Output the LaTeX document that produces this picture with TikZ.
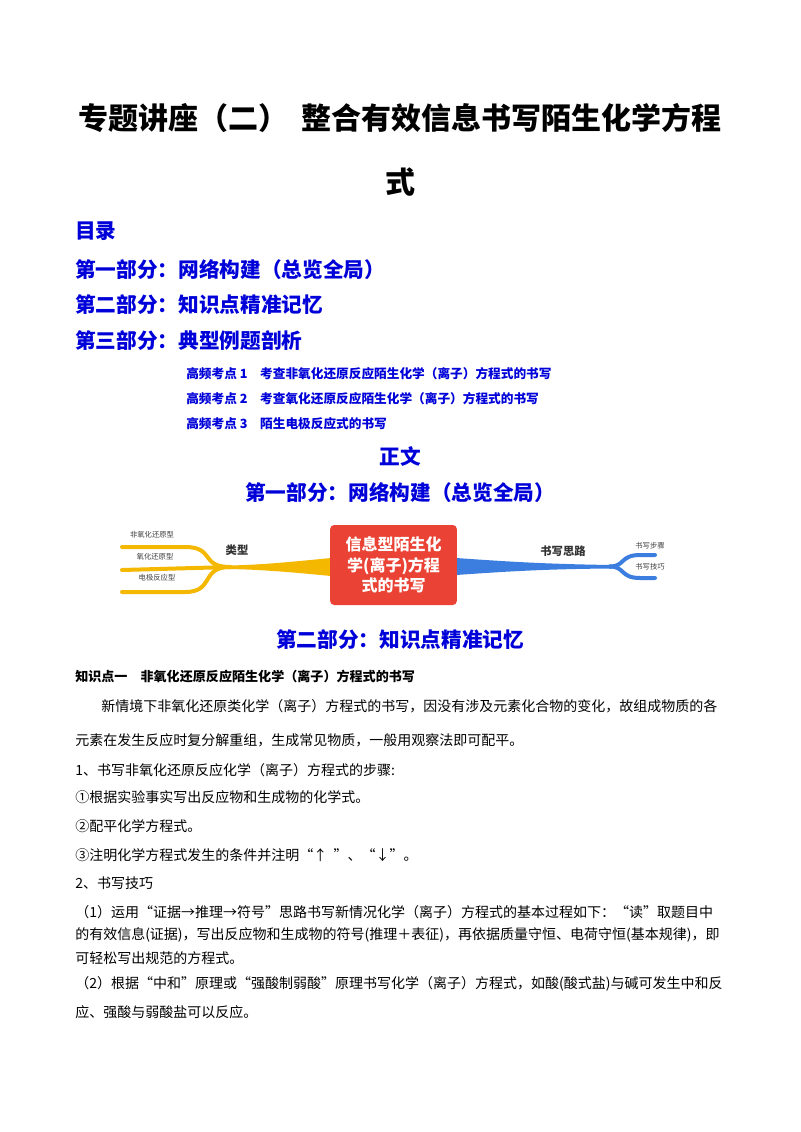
\documentclass[tikz,border=0pt]{standalone}
\usepackage{fontspec}
\setmainfont{Noto Sans CJK SC}
\begin{document}
\begin{tikzpicture}[x=0.75pt,y=-0.75pt,
 t/.style={anchor=west,inner sep=0pt,font=\fontsize{10.5pt}{12pt}\selectfont},
 h/.style={anchor=west,inner sep=0pt,text=blue!85!black,font=\bfseries\fontsize{15.5pt}{18pt}\selectfont},
 k/.style={anchor=west,inner sep=0pt,text=blue!85!black,font=\bfseries\fontsize{9.5pt}{11pt}\selectfont},
 sm/.style={inner sep=0pt,font=\fontsize{5.5pt}{6pt}\selectfont,text=black!75},
 br/.style={inner sep=0pt,font=\bfseries\fontsize{8.5pt}{10pt}\selectfont,text=black!80}]
\useasboundingbox[fill=white] (0,0) rectangle (800,1132);
\definecolor{myel}{HTML}{F5B800}\definecolor{mblue}{HTML}{3C7EE0}\definecolor{mred}{HTML}{EA4335}
% title
\node[inner sep=0pt,font=\bfseries\fontsize{22.5pt}{26pt}\selectfont] (t1) at (400,118) {专题讲座（二）\ \ 整合有效信息书写陌生化学方程};
\node[inner sep=0pt,font=\bfseries\fontsize{22.5pt}{26pt}\selectfont] (t2) at (400,182) {式};
\node[h] (m0) at (75,231) {目录};
\node[h] (m1) at (75,270) {第一部分：网络构建（总览全局）};
\node[h] (m2) at (75,305) {第二部分：知识点精准记忆};
\node[h] (m3) at (75,341) {第三部分：典型例题剖析};
\node[k] (g1) at (186,374) {高频考点 1\quad 考查非氧化还原反应陌生化学（离子）方程式的书写};
\node[k] (g2) at (186,399) {高频考点 2\quad 考查氧化还原反应陌生化学（离子）方程式的书写};
\node[k] (g3) at (186,424) {高频考点 3\quad 陌生电极反应式的书写};
\node[h,anchor=center] (zw) at (400,456) {正文};
\node[h,anchor=center] (p1) at (400,493) {第一部分：网络构建（总览全局）};
% mind map
\fill[myel] (331,558) .. controls (290,562) and (260,565) .. (228,565.5) -- (228,569) .. controls (260,569.5) and (290,572) .. (331,576) -- cycle;
\draw[myel,line width=3pt,line cap=round] (230,567) -- (122,570);
\draw[myel,line width=3pt,line cap=round] (230,567) .. controls (200,567) and (215,547) .. (185,547) -- (122,547);
\draw[myel,line width=3pt,line cap=round] (230,567) .. controls (200,567) and (215,592) .. (185,592) -- (122,592);
\fill[mblue] (456,558) .. controls (500,561) and (540,564) .. (612,565) -- (612,568.5) .. controls (540,569) and (500,572) .. (456,575) -- cycle;
\draw[mblue,line width=3pt,line cap=round] (610,566.5) .. controls (625,566.5) and (620,555) .. (640,555) -- (655,555);
\draw[mblue,line width=3pt,line cap=round] (610,566.5) .. controls (625,566.5) and (620,578) .. (640,578) -- (655,578);
\node[fill=mred,rounded corners=3pt,inner sep=0pt,text width=80pt,minimum width=95pt,align=center,minimum height=60pt,text=white,font=\bfseries\fontsize{12pt}{15.5pt}\selectfont] (c) at (393.5,565) {信息型陌生化\\学(离子)方程\\式的书写};
\node[br] (lx) at (237,550) {类型};
\node[br] (sx) at (563,551) {书写思路};
\node[sm] (a1) at (152,535) {非氧化还原型};
\node[sm] (a2) at (155,557) {氧化还原型};
\node[sm] (a3) at (157,578) {电极反应型};
\node[sm] (b1) at (650,546) {书写步骤};
\node[sm] (b2) at (650,567) {书写技巧};
% part 2
\node[h,anchor=center] (p2) at (400,640) {第二部分：知识点精准记忆};
\node[t,font=\bfseries\fontsize{9.8pt}{12pt}\selectfont] (k1) at (75,676) {知识点一\quad 非氧化还原反应陌生化学（离子）方程式的书写};
\node[t] (l1) at (101,706) {新情境下非氧化还原类化学（离子）方程式的书写，因没有涉及元素化合物的变化，故组成物质的各};
\node[t] (l2) at (75,740) {元素在发生反应时复分解重组，生成常见物质，一般用观察法即可配平。};
\node[t] (l3) at (75,770) {1、书写非氧化还原反应化学（离子）方程式的步骤:};
\node[t] (l4) at (75,797) {①根据实验事实写出反应物和生成物的化学式。};
\node[t] (l5) at (75,826) {②配平化学方程式。};
\node[t] (l6) at (75,855) {③注明化学方程式发生的条件并注明“↑\ \ ”、“↓”。};
\node[t] (l7) at (75,883) {2、书写技巧};
\node[t] (l8) at (75,912) {（1）运用“证据→推理→符号”思路书写新情况化学（离子）方程式的基本过程如下：“读”取题目中};
\node[t] (l9) at (75,935) {的有效信息(证据)，写出反应物和生成物的符号(推理＋表征)，再依据质量守恒、电荷守恒(基本规律)，即};
\node[t] (l10) at (75,958) {可轻松写出规范的方程式。};
\node[t] (l11) at (75,984) {（2）根据“中和”原理或“强酸制弱酸”原理书写化学（离子）方程式，如酸(酸式盐)与碱可发生中和反};
\node[t] (l12) at (75,1012) {应、强酸与弱酸盐可以反应。};
\end{tikzpicture}
\end{document}
